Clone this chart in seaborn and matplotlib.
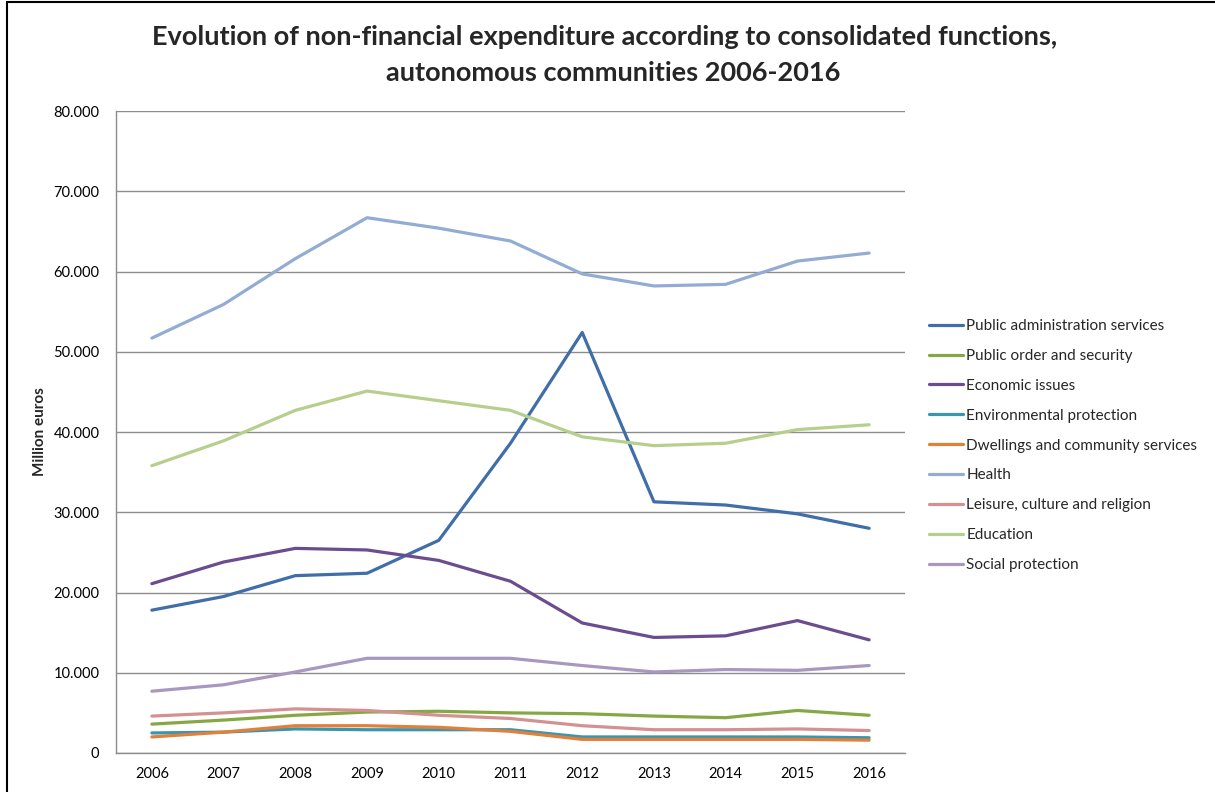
import matplotlib
matplotlib.use("Agg")
import matplotlib.pyplot as plt
import seaborn as sns
import pandas as pd
from matplotlib.ticker import FuncFormatter, FixedLocator
from matplotlib.lines import Line2D

years = ["2006", "2007", "2008", "2009", "2010", "2011", "2012", "2013", "2014", "2015", "2016"]

public_admin = [17.8, 19.5, 22.1, 22.4, 26.5, 38.6, 52.4, 31.3, 30.9, 29.8, 28.0]
public_order = [3.6, 4.1, 4.7, 5.1, 5.2, 5.0, 4.9, 4.6, 4.4, 5.3, 4.7]
economic = [21.1, 23.8, 25.5, 25.3, 24.0, 21.4, 16.2, 14.4, 14.6, 16.5, 14.1]
environmental = [2.5, 2.6, 3.0, 2.9, 2.9, 2.9, 2.0, 2.0, 2.0, 2.0, 1.9]
dwellings = [2.0, 2.6, 3.4, 3.4, 3.2, 2.7, 1.7, 1.7, 1.7, 1.7, 1.6]
health = [51.7, 55.9, 61.6, 66.7, 65.4, 63.8, 59.7, 58.2, 58.4, 61.3, 62.3]
leisure = [4.6, 5.0, 5.5, 5.3, 4.7, 4.3, 3.4, 2.9, 2.9, 3.0, 2.8]
education = [35.8, 38.9, 42.7, 45.1, 43.9, 42.7, 39.4, 38.3, 38.6, 40.3, 40.9]
social = [7.7, 8.5, 10.1, 11.8, 11.8, 11.8, 10.9, 10.1, 10.4, 10.3, 10.9]

series_names = ["Public administration services", "Public order and security", "Economic issues",
                "Environmental protection", "Dwellings and community services", "Health",
                "Leisure, culture and religion", "Education", "Social protection"]
series_values = [public_admin, public_order, economic, environmental, dwellings, health,
                 leisure, education, social]
colors = ["#3F6EA8", "#86A844", "#6B4C8E", "#3A95AE", "#E0803A", "#93ACD3",
          "#D39191", "#B7CF8C", "#A898C0"]

y_ticks = [0, 10000, 20000, 30000, 40000, 50000, 60000, 70000, 80000]

title_line1 = "Evolution of non-financial expenditure according to consolidated functions,"
title_line2 = "autonomous communities 2006-2016"

sns.set_style("white")
plt.rcParams["font.family"] = ["Lato", "DejaVu Sans"]

W, H = 1215, 792
fig = plt.figure(figsize=(W / 100, H / 100), dpi=100)
ax = fig.add_axes([116 / W, 1 - 753 / H, (905 - 116) / W, (753 - 111) / H])

rows = []
for name, vals in zip(series_names, series_values):
    for i, v in enumerate(vals):
        rows.append({"series": name, "x": i, "value": v * 1000})
df = pd.DataFrame(rows)

sns.lineplot(data=df, x="x", y="value", hue="series", hue_order=series_names,
             palette=colors, linewidth=2.3, ax=ax, legend=False, sort=False)

ax.set_xlim(-0.5, len(years) - 0.5)
ax.set_ylim(0, 80000)
ax.xaxis.set_major_locator(FixedLocator(range(len(years))))
ax.set_xticklabels(years)
ax.yaxis.set_major_locator(FixedLocator(y_ticks))
ax.yaxis.set_major_formatter(FuncFormatter(lambda v, p: f"{int(v):,}".replace(",", ".")))
ax.tick_params(axis="both", length=0, labelsize=10.5, colors="black")
ax.tick_params(axis="y", pad=12)
ax.tick_params(axis="x", pad=10)
ax.grid(axis="y", color="#8C8C8C", linewidth=1.0)
ax.set_axisbelow(True)
for s in ["top", "right"]:
    ax.spines[s].set_visible(False)
for s in ["left", "bottom"]:
    ax.spines[s].set_color("#8C8C8C")
    ax.spines[s].set_linewidth(1.0)
ax.set_xlabel("")
ax.set_ylabel("Million euros", fontsize=11, fontweight="bold", va="center")
ax.yaxis.set_label_coords((40 - 116) / 789, 0.5)

handles = [Line2D([0], [0], color=c, linewidth=2.3) for c in colors]
fig.legend(handles, series_names, loc="upper left",
           bbox_to_anchor=(929 / W, 1 - 319 / H), frameon=False, fontsize=11,
           handlelength=2.2, handletextpad=0.25, labelspacing=1.04,
           borderaxespad=0, borderpad=0)

fig.text(605 / W, 1 - 37 / H, title_line1, ha="center", va="center",
         fontsize=19.5, fontweight="bold")
fig.text(613 / W, 1 - 73 / H, title_line2, ha="center", va="center",
         fontsize=19.5, fontweight="bold")

fig.add_artist(Line2D([7 / W, 7 / W], [0, 1 - 2 / H], transform=fig.transFigure, color="black", linewidth=1.5))
fig.add_artist(Line2D([7 / W, 1], [1 - 2 / H, 1 - 2 / H], transform=fig.transFigure, color="black", linewidth=1.5))

fig.savefig("out.png", dpi=100)
